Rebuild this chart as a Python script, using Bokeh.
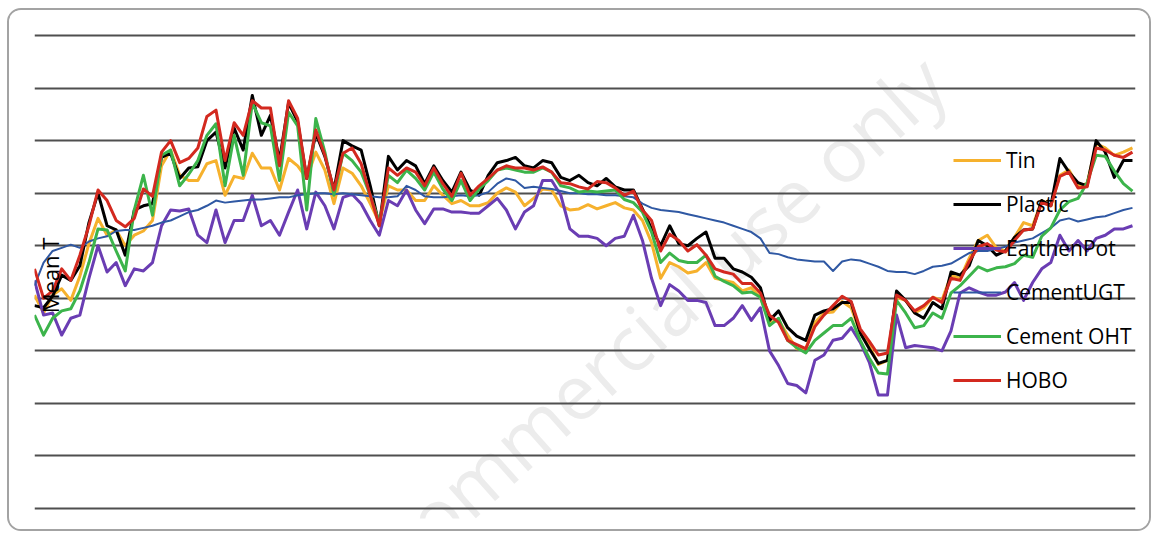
import math
from bokeh.plotting import figure
from bokeh.models import FixedTicker, Label, Range1d, Grid
from bokeh.embed import file_html
from bokeh.resources import INLINE

# ---------------- data (daily mean temperature) ----------------
days = list(range(1, 365, 3))

tin = [20.3, 18.6, 20.3, 20.9, 19.8, 22.1, 25.2, 27.6, 26.0, 26.5,
       25.0, 26.0, 26.4, 27.4, 32.6, 34.1, 31.7, 31.2, 31.2, 32.8,
       33.1, 29.8, 31.6, 31.4, 33.8, 32.4, 32.4, 30.3, 33.3, 32.6,
       31.4, 33.9, 32.2, 29.0, 32.4, 31.9, 30.7, 29.0, 27.2, 30.7,
       30.3, 30.3, 29.3, 29.3, 30.7, 29.8, 29.0, 29.3, 28.8, 28.8,
       29.1, 30.0, 30.5, 30.1, 28.8, 29.5, 30.4, 30.3, 28.8, 28.4,
       28.5, 28.9, 28.5, 28.8, 29.1, 28.6, 28.4, 27.4, 25.3, 21.9,
       23.4, 23.0, 22.4, 22.6, 23.4, 21.9, 21.7, 21.5, 20.7, 21.0,
       20.1, 17.7, 17.9, 16.5, 15.2, 15.2, 17.7, 18.6, 18.7, 19.7,
       19.1, 16.7, 15.5, 13.7, 14.1, 20.1, 19.8, 18.6, 19.1, 20.1,
       19.8, 22.2, 21.9, 23.8, 25.5, 26.0, 24.8, 24.5, 25.8, 27.2,
       26.9, 29.3, 28.8, 31.7, 32.2, 30.7, 30.9, 34.7, 34.3, 33.6,
       33.9, 34.3]

plastic = [19.3, 19.1, 20.2, 22.2, 21.7, 23.1, 27.2, 30.0, 26.9, 26.5,
           24.1, 28.4, 28.8, 29.0, 33.4, 33.8, 31.4, 32.4, 32.5, 35.0,
           35.8, 32.4, 36.2, 34.1, 39.3, 35.5, 37.4, 33.1, 38.6, 36.8,
           31.4, 35.7, 33.5, 30.3, 35.0, 34.5, 34.1, 30.7, 26.9, 33.5,
           32.2, 33.1, 32.6, 30.9, 32.6, 31.2, 30.1, 32.0, 30.3, 29.8,
           31.7, 32.9, 33.1, 33.4, 32.6, 32.4, 33.1, 32.9, 31.5, 31.2,
           31.7, 31.0, 30.7, 31.4, 30.6, 30.3, 30.3, 28.5, 26.6, 25.0,
           26.9, 25.2, 25.0, 25.7, 26.3, 23.8, 23.8, 22.8, 22.5, 22.0,
           21.0, 17.9, 18.8, 17.2, 16.4, 16.0, 18.4, 18.8, 19.0, 19.6,
           19.6, 16.7, 15.2, 13.8, 14.1, 20.7, 19.8, 18.6, 18.1, 19.6,
           19.0, 22.5, 22.2, 23.1, 25.5, 25.0, 24.1, 24.5, 25.8, 26.5,
           26.6, 29.3, 28.8, 33.3, 32.0, 31.0, 30.7, 35.0, 33.9, 31.5,
           33.1, 33.1]

earthen_pot = [21.7, 18.4, 18.6, 16.5, 18.1, 18.4, 21.9, 25.0, 22.5, 23.4,
               21.2, 22.8, 22.6, 23.4, 26.9, 28.4, 28.3, 28.5, 26.0, 25.3,
               28.4, 25.3, 27.4, 27.4, 29.8, 26.9, 27.4, 26.0, 28.2, 30.3,
               26.6, 30.1, 28.8, 26.6, 29.6, 29.9, 29.0, 27.4, 26.0, 29.3,
               28.8, 30.3, 28.4, 27.1, 28.5, 28.5, 28.2, 28.2, 28.1, 28.1,
               28.8, 29.5, 28.4, 26.6, 28.2, 28.8, 31.2, 31.2, 29.8, 26.6,
               25.9, 25.9, 25.7, 25.0, 25.7, 25.9, 27.9, 25.5, 21.9, 19.3,
               21.3, 20.7, 19.8, 19.8, 19.6, 17.4, 17.4, 18.1, 19.3, 17.9,
               19.1, 15.0, 13.6, 11.9, 11.7, 11.0, 14.1, 14.6, 16.0, 16.2,
               17.2, 15.8, 13.9, 10.8, 10.8, 18.4, 15.3, 15.5, 15.4, 15.3,
               15.0, 16.9, 20.5, 21.0, 20.6, 20.3, 20.3, 20.6, 21.5, 19.8,
               21.5, 22.8, 23.4, 26.0, 24.5, 25.5, 24.5, 25.7, 26.0, 26.6,
               26.6, 26.9]

cement_ugt = [21.2, 23.4, 24.5, 24.8, 25.1, 24.8, 25.4, 25.7, 25.9, 26.4,
              26.5, 26.5, 26.7, 26.9, 27.2, 27.4, 27.8, 28.2, 28.4, 28.8,
              29.3, 29.1, 29.2, 29.3, 29.4, 29.4, 29.5, 29.6, 29.6, 29.8,
              29.9, 30.0, 30.0, 29.9, 30.0, 29.9, 29.8, 29.7, 29.6, 29.6,
              29.7, 30.7, 30.3, 29.7, 29.6, 29.6, 29.7, 29.8, 29.7, 29.8,
              30.1, 30.9, 31.4, 31.2, 30.5, 30.6, 30.5, 30.4, 30.2, 30.0,
              30.0, 29.9, 29.9, 29.8, 29.8, 29.7, 29.6, 29.0, 28.6, 28.4,
              28.3, 28.2, 28.0, 27.8, 27.6, 27.4, 27.2, 26.9, 26.6, 26.3,
              25.7, 24.3, 24.2, 23.9, 23.7, 23.6, 23.5, 23.5, 22.6, 23.5,
              23.7, 23.6, 23.3, 23.0, 22.6, 22.5, 22.5, 22.3, 22.6, 23.0,
              23.1, 23.3, 23.8, 24.3, 24.5, 24.5, 24.7, 24.9, 25.3, 25.5,
              25.7, 26.2, 26.7, 27.4, 27.6, 27.3, 27.5, 27.7, 27.8, 28.1,
              28.4, 28.6]

cement_oht = [18.4, 16.5, 18.1, 18.8, 19.0, 20.7, 23.4, 26.6, 26.5, 24.5,
              22.6, 28.4, 31.7, 27.9, 33.6, 34.1, 30.7, 31.8, 33.1, 35.5,
              36.6, 30.7, 35.5, 31.7, 38.6, 36.7, 36.4, 31.2, 37.7, 36.4,
              28.4, 37.1, 33.9, 29.8, 33.8, 33.1, 32.0, 29.8, 27.2, 31.7,
              31.0, 32.2, 31.4, 30.3, 32.0, 30.4, 29.3, 31.2, 29.3, 30.4,
              31.2, 32.2, 32.4, 32.2, 32.0, 32.0, 32.4, 32.0, 30.7, 30.5,
              30.1, 30.2, 30.1, 30.2, 30.3, 29.4, 29.1, 28.2, 26.3, 23.4,
              24.3, 23.6, 23.4, 23.4, 24.1, 22.1, 21.6, 21.2, 20.5, 20.6,
              20.1, 17.4, 18.1, 16.0, 15.3, 14.8, 16.0, 16.7, 17.4, 17.4,
              18.1, 16.0, 14.3, 12.9, 12.8, 19.8, 18.6, 17.2, 17.4, 18.6,
              18.1, 20.5, 21.2, 22.1, 23.0, 22.6, 22.9, 23.0, 23.3, 24.1,
              23.9, 25.9, 26.7, 28.4, 29.2, 29.5, 31.0, 33.6, 33.5, 32.1,
              30.9, 30.2]

hobo = [22.8, 20.0, 20.7, 22.8, 21.7, 24.1, 26.9, 30.3, 29.3, 27.4,
        26.8, 27.6, 30.4, 29.7, 33.9, 35.0, 32.9, 33.3, 34.3, 37.3,
        37.9, 33.1, 36.7, 35.5, 38.8, 38.1, 38.1, 32.6, 38.8, 37.1,
        31.4, 36.0, 33.6, 30.3, 33.8, 34.3, 32.8, 29.8, 26.9, 32.4,
        31.7, 32.4, 32.0, 30.7, 32.4, 30.9, 29.7, 31.9, 29.8, 30.7,
        31.4, 32.2, 32.6, 32.4, 32.4, 32.2, 32.5, 32.0, 31.0, 30.9,
        30.6, 30.4, 31.1, 31.0, 30.5, 29.8, 30.2, 28.4, 27.4, 24.5,
        26.1, 25.5, 24.5, 25.1, 24.1, 22.8, 22.5, 22.3, 21.4, 21.4,
        20.5, 18.4, 17.7, 16.0, 15.6, 15.2, 17.3, 18.4, 19.3, 20.2,
        19.7, 17.1, 15.9, 14.6, 14.8, 20.3, 19.8, 18.8, 19.3, 20.1,
        19.6, 21.9, 21.7, 23.5, 24.9, 25.2, 24.6, 24.4, 25.5, 26.5,
        26.6, 29.1, 28.8, 31.6, 32.0, 30.5, 30.6, 34.3, 34.1, 33.6,
        33.4, 33.9]

series_names = ["Tin", "Plastic", "EarthenPot", "CementUGT", "Cement OHT", "HOBO"]
grid_ticks = [0, 5, 10, 15, 20, 25, 30, 35, 40, 45]
y_label = "Mean T"
watermark = "Non-commercial use only"

# ---------------- styles ----------------
colors = ["#f6b12d", "#000000", "#6a3db3", "#2f58a3", "#3cb44b", "#d3291f"]
widths = [3, 3, 3, 2, 3, 3]
FONT = "Open Sans"

p = figure(width=1144, height=523, output_backend="svg", toolbar_location=None,
           x_range=Range1d(1, 365), y_range=Range1d(-0.95, 45.95),
           x_axis_location=None, y_axis_location=None, title=None,
           min_border_left=25, min_border_right=18, min_border_top=15,
           min_border_bottom=15)
p.margin = (8, 0, 0, 7)
p.outline_line_color = None
p.background_fill_color = "white"
p.border_fill_color = "white"
p.grid.visible = False
p.styles = {"border": "2px solid #a3a3a3", "border-radius": "14px", "overflow": "hidden"}

p.add_layout(Label(x=562, y=148, x_units="screen", y_units="screen", text=watermark,
                   angle=0.73, text_font=FONT, text_font_size="76px",
                   text_color="#ececec", text_align="center", text_baseline="middle",
                   level="image"))

grid = Grid(dimension=1, ticker=FixedTicker(ticks=grid_ticks),
            grid_line_color="#4f4f4f", grid_line_width=2)
p.add_layout(grid)

for name, vals, col, w in zip(series_names,
                              [tin, plastic, earthen_pot, cement_ugt, cement_oht, hobo],
                              colors, widths):
    p.line(days, vals, line_color=col, line_width=w, legend_label=name,
           line_join="round")

p.add_layout(Label(x=15, y=243, x_units="screen", y_units="screen", text=y_label,
                   angle=math.pi / 2, text_font=FONT, text_font_size="22px",
                   text_color="black", text_align="center", text_baseline="middle"))

lg = p.legend[0]
lg.location = (919, 123)
lg.background_fill_alpha = 0
lg.border_line_color = None
lg.label_text_font = FONT
lg.label_text_font_size = "21px"
lg.label_text_color = "black"
lg.glyph_width = 48
lg.glyph_height = 30
lg.label_height = 30
lg.spacing = 14
lg.padding = 0
lg.margin = 0
lg.label_standoff = 5
lg.level = "underlay"

open("out.html", "w").write(file_html(p, INLINE))
